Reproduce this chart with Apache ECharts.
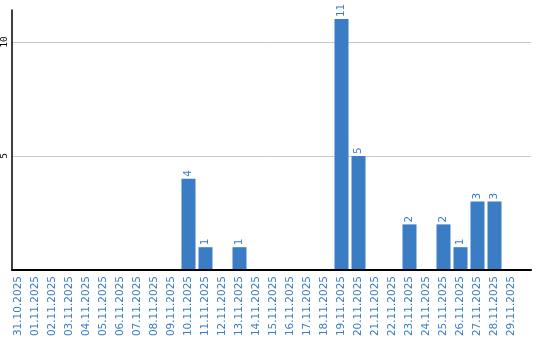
<!DOCTYPE html>
<html><head><meta charset="utf-8">
<script src="https://cdn.jsdelivr.net/npm/echarts@6/dist/echarts.min.js"></script>
<style>html,body{margin:0;padding:0;background:#fff}#c{width:540px;height:340px}</style>
</head><body><div id="c"></div>
<script>
const categories = ['31.10.2025','01.11.2025','02.11.2025','03.11.2025','04.11.2025','05.11.2025','06.11.2025','07.11.2025','08.11.2025','09.11.2025','10.11.2025','11.11.2025','12.11.2025','13.11.2025','14.11.2025','15.11.2025','16.11.2025','17.11.2025','18.11.2025','19.11.2025','20.11.2025','21.11.2025','22.11.2025','23.11.2025','24.11.2025','25.11.2025','26.11.2025','27.11.2025','28.11.2025','29.11.2025'];
const values = [0,0,0,0,0,0,0,0,0,0,4,1,0,1,0,0,0,0,0,11,5,0,0,2,0,2,1,3,3,0];
const yTicks = [5, 10];
const yMax = 11.4;
const blue = '#3b7dc4';
const chart = echarts.init(document.getElementById('c'), null, {renderer:'canvas'});
chart.setOption({
  animation:false,
  grid:[
    {left:10, width:521, top:10, bottom:70},
    {left:10, width:510, top:10, bottom:70}
  ],
  xAxis:[
    {gridIndex:0, type:'value', min:0, max:1, axisLine:{show:true, onZero:false, lineStyle:{color:'#000', width:2}}, axisTick:{show:false}, axisLabel:{show:false}, splitLine:{show:false}, z:5},
    {gridIndex:1, type:'category', data:categories, axisLine:{show:false}, axisTick:{show:false},
     axisLabel:{interval:0, rotate:90, color:blue, fontFamily:'DejaVu Sans', fontSize:10.5, margin:6}}
  ],
  yAxis:[
    {gridIndex:0, type:'value', min:0, max:yMax, interval:5,
     axisLine:{show:true, lineStyle:{color:'#000', width:1.5}}, axisTick:{show:false},
     axisLabel:{rotate:90, fontSize:9.5, fontFamily:'DejaVu Sans Mono', color:'#000', margin:2,
       formatter:v=>yTicks.includes(v)?String(v):''},
     splitLine:{show:false}, z:5},
    {gridIndex:1, type:'value', min:0, max:yMax, show:false, splitLine:{show:false}}
  ],
  series:[
    {type:'line', xAxisIndex:0, yAxisIndex:0, data:[], silent:true, z:0,
     markLine:{symbol:'none', silent:true, label:{show:false}, z:0,
       lineStyle:{color:'#c8c8c8', type:'solid', width:1},
       data:yTicks.map(t=>({yAxis:t}))}},
    {type:'bar', xAxisIndex:1, yAxisIndex:1, data:values, barWidth:14, z:3,
     itemStyle:{color:blue},
     label:{show:true, position:'top', rotate:90, align:'left', verticalAlign:'middle', distance:2, color:blue,
       fontFamily:'DejaVu Sans', fontSize:10.5, formatter:p=>p.value?String(p.value):''}}
  ]
});
</script></body></html>
